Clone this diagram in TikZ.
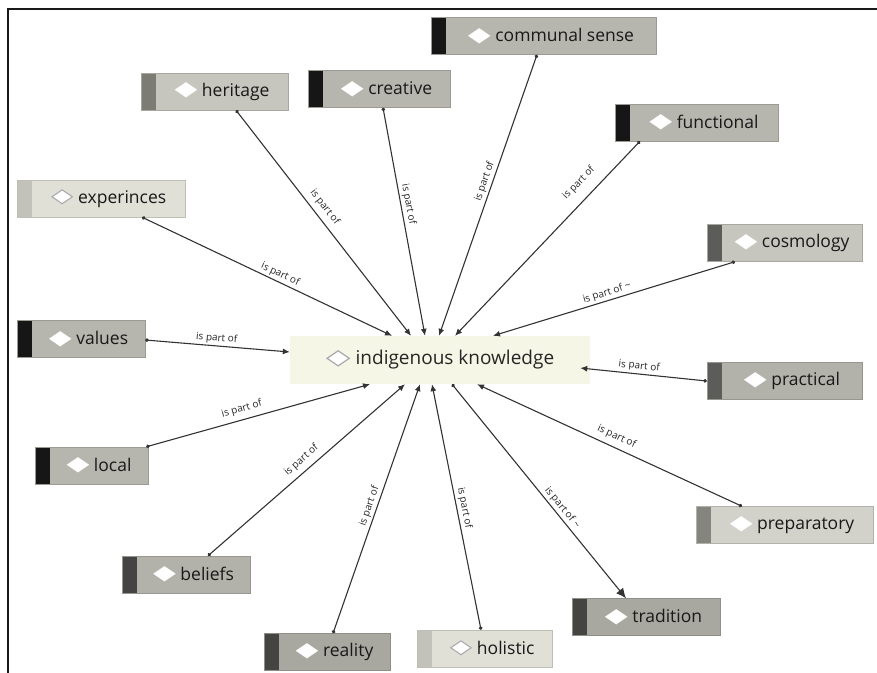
\documentclass[tikz,border=0pt]{standalone}
\usepackage{fontspec}
\setmainfont{Open Sans}
\newfontfamily\symfont{DejaVu Sans}
\usetikzlibrary{arrows.meta,calc}

% box colours: strip / body
\definecolor{stripK}{HTML}{161616}
\definecolor{bodyK}{HTML}{B6B6AE}
\definecolor{stripH}{HTML}{7C7C74}
\definecolor{bodyH}{HTML}{C6C6BE}
\definecolor{stripL}{HTML}{C2C2BA}
\definecolor{bodyL}{HTML}{E0E0D6}
\definecolor{stripM}{HTML}{5C5C58}
\definecolor{bodyM}{HTML}{B2B2AA}
\definecolor{stripD}{HTML}{444442}
\definecolor{bodyD}{HTML}{A8A8A0}
\definecolor{stripP}{HTML}{858580}
\definecolor{bodyP}{HTML}{D2D2CA}
\definecolor{centrebg}{HTML}{F6F6E6}
\definecolor{wire}{HTML}{333333}

% diamond markers
\newcommand\gem{{\symfont\raisebox{0.5pt}{\scalebox{1.7}[1.15]{\textcolor{white}{◆}}}}}
\newcommand\gemo{{\symfont\raisebox{0.5pt}{\scalebox{1.7}[1.15]{\rlap{\textcolor{white}{◆}}\textcolor{black!35}{◇}}}}}

\tikzset{
  concept/.style 2 args={fill=#2, draw=#2!85!black, line width=0.4pt,
    minimum height=37pt, inner sep=0pt, text=black!90,
    font=\fontsize{17.5}{19}\selectfont,
    path picture={\fill[#1] (path picture bounding box.south west)
      rectangle ([xshift=15pt]path picture bounding box.north west);}},
  core/.style={fill=centrebg, minimum width=300pt, minimum height=48pt,
    inner sep=0pt, text=black!85, font=\fontsize{19}{21}\selectfont},
  edge/.style={draw=wire, line width=1.1pt,
    {Circle[length=3.5pt]}-{Latex[length=7pt,width=6pt]}},
  edgeout/.style={draw=wire, line width=1.1pt,
    {Circle[length=3.5pt]}-{Latex[length=10pt,width=9pt]}},
  lbl/.style={sloped, font=\fontsize{10}{11}\selectfont, text=black!85,
    inner sep=2pt},
}

\begin{document}
\begin{tikzpicture}[x=1pt,y=-1pt]
\useasboundingbox (0,0) rectangle (877,672);
\fill[white] (0,0) rectangle (877,672);
\draw[line width=2.5pt, black!90] (877,9) -- (8,9) -- (8,673);

% central concept
\node[core] (ik) at (440,360) {\gemo\ indigenous knowledge};

% surrounding concepts
\node[concept={stripH}{bodyH}, minimum width=147pt] (heritage) at (214.5,91.5) {\hspace*{15pt}\gem\ heritage};
\node[concept={stripK}{bodyK}, minimum width=142pt] (creative) at (379,89) {\hspace*{15pt}\gem\ creative};
\node[concept={stripK}{bodyK}, minimum width=225pt] (communal) at (543.5,36) {\hspace*{15pt}\gem\ communal sense};
\node[concept={stripK}{bodyK}, minimum width=163pt] (functional) at (696.5,122.5) {\hspace*{15pt}\gem\ functional};
\node[concept={stripL}{bodyL}, minimum width=168pt] (experinces) at (101,198.5) {\hspace*{15pt}\gemo\ experinces};
\node[concept={stripM}{bodyH}, minimum width=155pt] (cosmology) at (784.5,243) {\hspace*{15pt}\gem\ cosmology};
\node[concept={stripK}{bodyK}, minimum width=128pt] (values) at (81,339) {\hspace*{15pt}\gem\ values};
\node[concept={stripM}{bodyM}, minimum width=155pt] (practical) at (784.5,381) {\hspace*{15pt}\gem\ practical};
\node[concept={stripK}{bodyK}, minimum width=113pt] (local) at (91.5,465.5) {\hspace*{15pt}\gem\ local};
\node[concept={stripP}{bodyP}, minimum width=177pt] (preparatory) at (784.5,525) {\hspace*{15pt}\gem\ preparatory};
\node[concept={stripD}{bodyM}, minimum width=128pt] (beliefs) at (186,574.5) {\hspace*{15pt}\gem\ beliefs};
\node[concept={stripD}{bodyD}, minimum width=126pt] (reality) at (327,652) {\hspace*{15pt}\gem\ reality};
\node[concept={stripL}{bodyL}, minimum width=135pt] (holistic) at (484.5,648.5) {\hspace*{15pt}\gemo\ holistic};
\node[concept={stripD}{bodyD}, minimum width=148pt] (tradition) at (646,617) {\hspace*{15pt}\gem\ tradition};

% where the connectors meet the central concept
\coordinate (ik-exp) at ([xshift=-48pt]ik.north);
\coordinate (ik-her) at ([xshift=-29pt]ik.north);
\coordinate (ik-cre) at ([xshift=-15pt]ik.north);
\coordinate (ik-com) at ([xshift=-1pt]ik.north);
\coordinate (ik-fun) at ([xshift=15pt]ik.north);
\coordinate (ik-cos) at ([xshift=53pt]ik.north);
\coordinate (ik-val) at ([yshift=8pt]ik.west);
\coordinate (ik-pra) at ([xshift=-10pt,yshift=-8pt]ik.east);
\coordinate (ik-loc) at ([xshift=-70pt]ik.south);
\coordinate (ik-bel) at ([xshift=-35pt]ik.south);
\coordinate (ik-rea) at ([xshift=-20pt]ik.south);
\coordinate (ik-hol) at ([xshift=-8pt]ik.south);
\coordinate (ik-tra) at ([xshift=12pt]ik.south);
\coordinate (ik-pre) at ([xshift=37pt]ik.south);

% connectors
\draw[edge] ([xshift=41pt]experinces.south) -- node[lbl, pos=0.54, above] {is part of} (ik-exp);
\draw[edge] ([xshift=21.5pt]heritage.south) -- node[lbl, pos=0.46, above=3pt] {is part of} (ik-her);
\draw[edge] ([xshift=4pt]creative.south) -- node[lbl, pos=0.43, above] {is part of} (ik-cre);
\draw[edge] ([xshift=-6.5pt]communal.south) -- node[lbl, pos=0.46, above] {is part of} (ik-com);
\draw[edge] ([xshift=-56.5pt]functional.south) -- node[lbl, pos=0.27, above=8pt] {is part of} (ik-fun);
\draw[edge] ([xshift=-49.5pt]cosmology.south) -- node[lbl, pos=0.52, above] {is part of \textasciitilde} (ik-cos);
\draw[edge] ([yshift=-1pt]values.east) -- node[lbl, pos=0.49, above] {is part of} (ik-val);
\draw[edge] (practical.west) -- node[lbl, pos=0.54, above] {is part of} (ik-pra);
\draw[edge] ([xshift=-2pt]local.north east) -- node[lbl, pos=0.44, above=3pt] {is part of} (ik-loc);
\draw[edge] ([xshift=22pt]beliefs.north) -- node[lbl, pos=0.51, above=3pt] {is part of} (ik-bel);
\draw[edge] ([xshift=6pt]reality.north) -- node[lbl, pos=0.5, above] {is part of} (ik-rea);
\draw[edge] ([xshift=-3.5pt]holistic.north) -- node[lbl, pos=0.49, above] {is part of} (ik-hol);
\draw[edgeout] (ik-tra) -- node[lbl, pos=0.6, above] {is part of \textasciitilde} ([xshift=-20pt]tradition.north);
\draw[edge] ([xshift=-42.5pt]preparatory.north) -- node[lbl, pos=0.49, above=3pt] {is part of} (ik-pre);
\end{tikzpicture}
\end{document}
